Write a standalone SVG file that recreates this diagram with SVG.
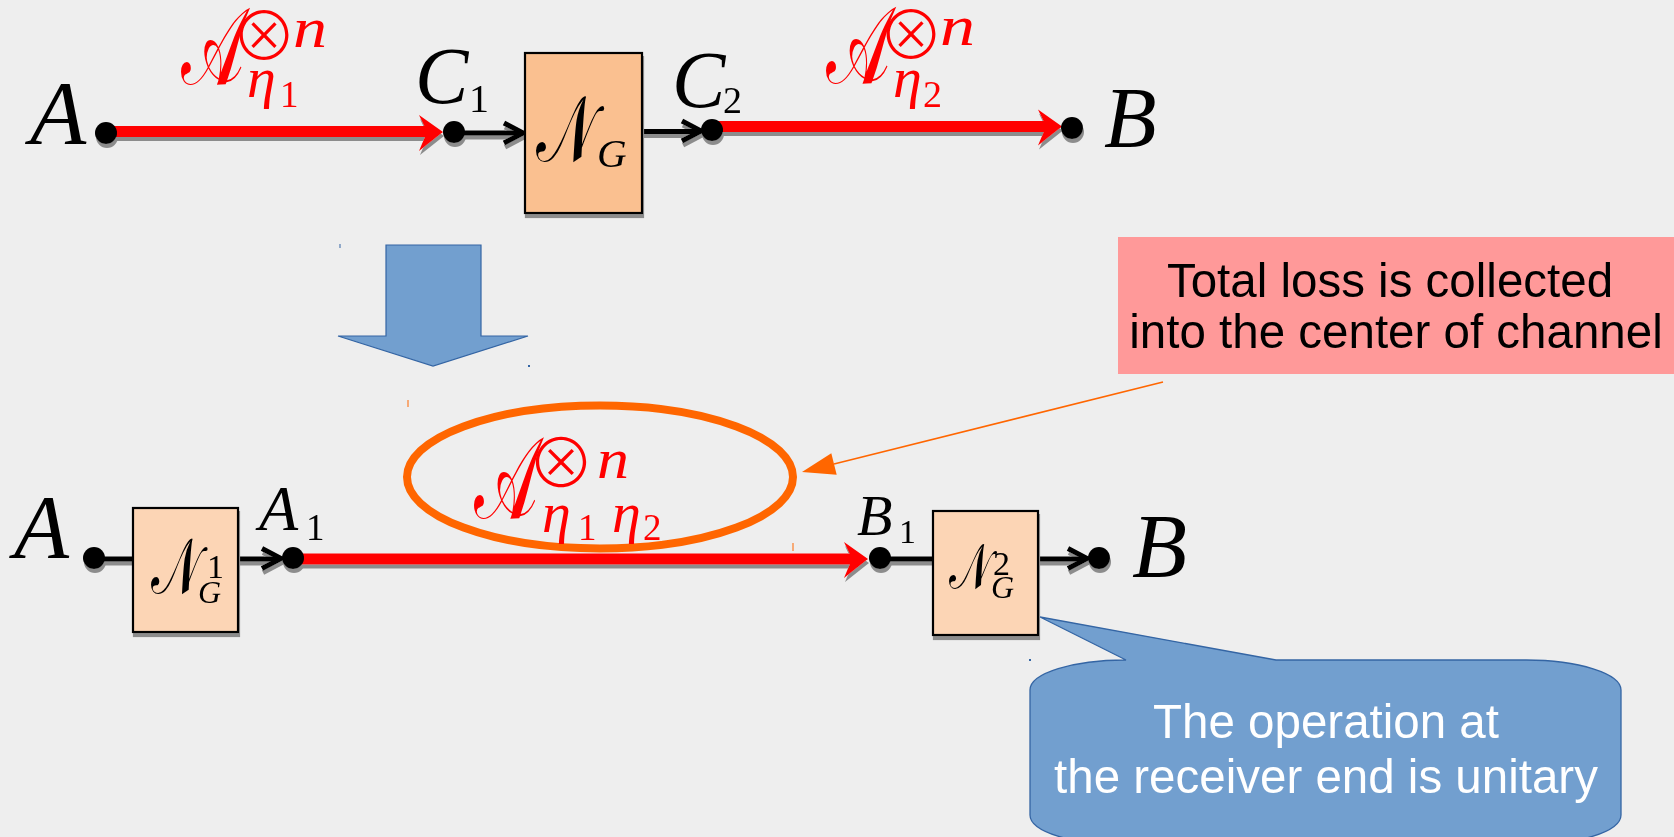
<svg xmlns="http://www.w3.org/2000/svg" xmlns:xlink="http://www.w3.org/1999/xlink" width="1674" height="837" viewBox="0 0 1674 837">
<defs>
<style>
.bg{fill:#eeeeee}
.m{font-family:"Liberation Serif","DejaVu Serif",serif;font-style:italic}
.up{font-family:"Liberation Serif","DejaVu Serif",serif;font-style:normal}
.cal{font-family:"DejaVu Serif","DejaVu Sans","Noto Sans",serif;font-style:normal}
.op{font-family:"Noto Sans CJK JP","DejaVu Sans",sans-serif;font-style:normal;font-weight:300}
.red{fill:#ff0000}
.blk{fill:#000000}
.box{stroke:#000;stroke-width:2.2}
.boxTop{fill:#fac090}
.boxLow{fill:#fcd5b5}
.wire{stroke:#000;stroke-width:5;fill:none}
.rwire{stroke:#ff0000;stroke-width:11;fill:none}
.chev{stroke:#000;stroke-width:5;fill:none}
.sans{font-family:"Liberation Sans",Arial,sans-serif;font-size:47.5px}
</style>
<filter id="sh" x="-20%" y="-20%" width="140%" height="160%">
<feDropShadow dx="1" dy="4" stdDeviation="0.6" flood-color="#8c8c8c" flood-opacity="1"/>
</filter>
<path id="rhead" d="M-24,-17 L0,0 L-24,19 L-16,0 Z" fill="#ff0000"/>
<path id="chevron" d="M-19,-10 L0,0 L-19,10" class="chev"/>
<circle id="dot" r="11" fill="#000"/>
</defs>
<rect class="bg" x="0" y="0" width="1674" height="837"/>

<!-- stray tiny marks -->
<g id="marks">
<line x1="340" y1="244" x2="340" y2="248" stroke="#3465a4" stroke-width="1"/>
<line x1="408" y1="400" x2="408" y2="407" stroke="#ff6600" stroke-width="1"/>
<line x1="793" y1="543" x2="793" y2="551" stroke="#ff6600" stroke-width="1"/>
<rect x="528" y="365" width="2" height="2" fill="#3465a4"/>
<rect x="1029" y="659" width="2" height="2" fill="#3465a4"/>
</g>

<!-- big blue transform arrow -->
<g id="bigArrow">
<polygon points="386,245 481,245 481,336 528,336 433,366 338,336 386,336" fill="#729fcf" stroke="#3465a4" stroke-width="1.2"/>
</g>

<!-- connectors -->
<g id="connectors" filter="url(#sh)">
<line class="rwire" x1="106" y1="131.5" x2="427" y2="131.5"/>
<use xlink:href="#rhead" x="443" y="132"/>
<line class="wire" x1="454" y1="133" x2="521" y2="133"/>
<use xlink:href="#chevron" x="523" y="133"/>
<line class="wire" x1="642" y1="131.5" x2="699" y2="131.5"/>
<use xlink:href="#chevron" x="701" y="131"/>
<line class="rwire" x1="712" y1="126.5" x2="1046" y2="126.5"/>
<use xlink:href="#rhead" x="1062" y="126.5"/>
<line class="wire" x1="94" y1="559" x2="133" y2="559"/>
<line class="wire" x1="238" y1="559" x2="279" y2="559"/>
<use xlink:href="#chevron" x="281" y="558.5"/>
<line class="rwire" x1="293" y1="559" x2="852" y2="559"/>
<use xlink:href="#rhead" x="868" y="559"/>
<line class="wire" x1="880" y1="559" x2="933" y2="559"/>
<line class="wire" x1="1038" y1="559" x2="1085" y2="559"/>
<use xlink:href="#chevron" x="1087" y="558.5"/>
<use xlink:href="#dot" x="106" y="133"/>
<use xlink:href="#dot" x="454" y="132"/>
<use xlink:href="#dot" x="712" y="130"/>
<use xlink:href="#dot" x="1072" y="128"/>
<use xlink:href="#dot" x="94" y="558"/>
<use xlink:href="#dot" x="293" y="558"/>
<use xlink:href="#dot" x="880" y="558"/>
<use xlink:href="#dot" x="1099" y="558"/>
</g>

<!-- orange pointer from note to ellipse -->
<g id="pointer">
<line x1="1163" y1="382" x2="834" y2="464" stroke="#ff6600" stroke-width="1.6"/>
<polygon points="802,472 831.3,453.3 836.7,474.7" fill="#ff6600"/>
</g>

<!-- top row nodes -->
<g id="nodeA_top">
<text class="m blk" x="30" y="144" font-size="92">A</text>
</g>
<g id="labelA_eta1" class="red">
<text class="cal" x="181" y="84" font-size="108" textLength="63" lengthAdjust="spacingAndGlyphs">𝒜</text>
<text class="op" x="264" y="60" font-size="66" text-anchor="middle">⊗</text>
<text class="m" x="293" y="47" font-size="58" textLength="34" lengthAdjust="spacingAndGlyphs">n</text>
<text class="m" x="247" y="97" font-size="58">η</text>
<text class="up" x="280" y="107" font-size="37">1</text>
</g>
<g id="nodeC1">
<text class="m blk" x="415" y="103" font-size="80">C</text>
<text class="up blk" x="469" y="112" font-size="40">1</text>
</g>
<g id="nodeNG" filter="url(#sh)">
<rect class="box boxTop" x="525" y="53" width="117" height="160"/>
</g>
<g id="nodeNG_label">
<text class="cal blk" x="536" y="161" font-size="93" textLength="60" lengthAdjust="spacingAndGlyphs">𝒩</text>
<text class="m blk" x="597" y="167" font-size="41">G</text>
</g>
<g id="nodeC2">
<text class="m blk" x="672" y="107" font-size="80">C</text>
<text class="up blk" x="723" y="113" font-size="38">2</text>
</g>
<g id="labelA_eta2" class="red">
<text class="cal" x="826" y="83" font-size="108" textLength="64" lengthAdjust="spacingAndGlyphs">𝒜</text>
<text class="op" x="911" y="59" font-size="66" text-anchor="middle">⊗</text>
<text class="m" x="940" y="45" font-size="58" textLength="35" lengthAdjust="spacingAndGlyphs">n</text>
<text class="m" x="893" y="97" font-size="58">η</text>
<text class="up" x="923" y="107" font-size="38">2</text>
</g>
<g id="nodeB_top">
<text class="m blk" x="1104" y="147" font-size="86">B</text>
</g>

<!-- bottom row nodes -->
<g id="nodeA_bot">
<text class="m blk" x="14" y="558" font-size="90">A</text>
</g>
<g id="nodeNG1" filter="url(#sh)">
<rect class="box boxLow" x="133" y="508" width="105" height="124"/>
</g>
<g id="nodeNG1_label">
<text class="cal blk" x="151" y="593" font-size="78" textLength="50" lengthAdjust="spacingAndGlyphs">𝒩</text>
<text class="up blk" x="207" y="578" font-size="34">1</text>
<text class="m blk" x="198" y="603" font-size="32">G</text>
</g>
<g id="nodeA1">
<text class="m blk" x="259" y="530" font-size="64">A</text>
<text class="up blk" x="306" y="540" font-size="37">1</text>
</g>
<g id="ellipseNote">
<ellipse cx="600" cy="477" rx="193" ry="71.5" fill="none" stroke="#ff6600" stroke-width="8"/>
</g>
<g id="labelA_eta12" class="red">
<text class="cal" x="474" y="518" font-size="115" textLength="64" lengthAdjust="spacingAndGlyphs">𝒜</text>
<text class="op" x="561" y="488" font-size="68" text-anchor="middle">⊗</text>
<text class="m" x="597" y="478" font-size="58" textLength="32" lengthAdjust="spacingAndGlyphs">n</text>
<text class="m" x="542" y="532" font-size="58">η</text>
<text class="up" x="578" y="540" font-size="37">1</text>
<text class="m" x="612" y="532" font-size="58">η</text>
<text class="up" x="643" y="540" font-size="37">2</text>
</g>
<g id="nodeB1">
<text class="m blk" x="857" y="535" font-size="58">B</text>
<text class="up blk" x="899" y="543" font-size="34">1</text>
</g>
<g id="nodeNG2" filter="url(#sh)">
<rect class="box boxLow" x="933" y="511" width="105" height="124"/>
</g>
<g id="nodeNG2_label">
<text class="cal blk" x="949" y="588" font-size="62" textLength="42" lengthAdjust="spacingAndGlyphs">𝒩</text>
<text class="up blk" x="993" y="575" font-size="34">2</text>
<text class="m blk" x="991" y="598" font-size="32">G</text>
</g>
<g id="nodeB_bot">
<text class="m blk" x="1132" y="577" font-size="90">B</text>
</g>

<!-- notes -->
<g id="noteLoss">
<rect x="1118" y="237" width="556" height="137" fill="#ff9999"/>
<text class="sans" x="1390" y="297" text-anchor="middle" fill="#000">Total loss is collected</text>
<text class="sans" x="1396" y="348" text-anchor="middle" fill="#000">into the center of channel</text>
</g>
<g id="noteUnitary">
<path d="M1126,660 L1040,617 L1276,660 L1526,660 A95,30 0 0 1 1621,690 L1621,815 A95,30 0 0 1 1526,845 L1125,845 A95,30 0 0 1 1030,815 L1030,690 A95,30 0 0 1 1126,660 Z" fill="#729fcf" stroke="#3465a4" stroke-width="1.3"/>
<text class="sans" x="1326" y="738" text-anchor="middle" fill="#ffffff">The operation at</text>
<text class="sans" x="1326" y="793" text-anchor="middle" fill="#ffffff">the receiver end is unitary</text>
</g>
</svg>
